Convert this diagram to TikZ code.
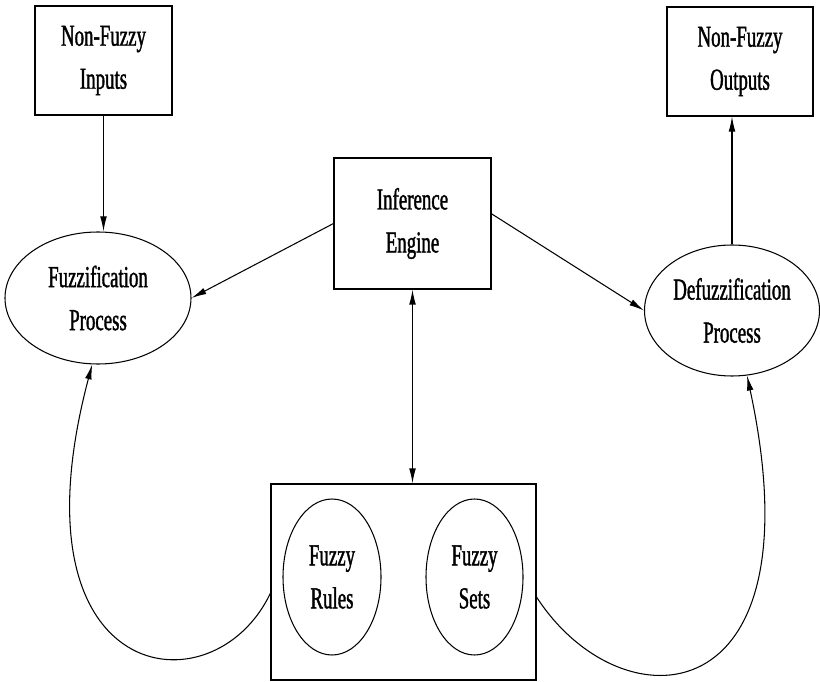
\documentclass[tikz,border=0pt]{standalone}
\usepackage{fontspec}
\setmainfont{Liberation Serif}[FakeStretch=0.62, FakeBold=1.2]
\usetikzlibrary{shapes.geometric, arrows.meta}

\begin{document}
\begin{tikzpicture}[
          box/.style={rectangle, draw, line width=0.9pt, inner sep=0pt,
                      font=\fontsize{26}{36.7}\selectfont, align=center},
          proc/.style={ellipse, draw, line width=0.9pt, inner sep=0pt,
                       font=\fontsize{26}{36.7}\selectfont, align=center},
          arr/.style={-{Latex[length=4.5mm,width=2mm]}, line width=0.9pt},
          dblarr/.style={{Latex[length=4.5mm,width=2mm]}-{Latex[length=4.5mm,width=2mm]},
                         line width=0.9pt}
        ]
        \useasboundingbox (0,0) rectangle (24.6,20.43);
        %% Crisp boxes
        \node[box, minimum width=4.11cm, minimum height=3.27cm] (inputs)
              at (3.105, 18.615) {Non-Fuzzy\\Inputs};
        \node[box, minimum width=4.38cm, minimum height=3.27cm] (outputs)
              at (22.2, 18.585) {Non-Fuzzy\\Outputs};
        %% Inference engine
        \node[box, minimum width=4.71cm, minimum height=3.93cm] (engine)
              at (12.375, 13.725) {Inference\\Engine};
        %% Processes
        \node[proc, minimum width=5.58cm, minimum height=3.96cm] (fuzz)
              at (2.94, 11.49) {Fuzzification\\Process};
        \node[proc, minimum width=5.25cm, minimum height=3.93cm] (defuzz)
              at (21.96, 11.115) {Defuzzification\\Process};
        %% Knowledge base
        \node[box, minimum width=7.95cm, minimum height=5.88cm] (kb)
              at (12.105, 2.97) {};
        \node[proc, minimum width=2.94cm, minimum height=4.68cm] (rules)
              at (9.96, 3.12) {Fuzzy\\Rules};
        \node[proc, minimum width=2.91cm, minimum height=4.68cm] (sets)
              at (14.235, 3.12) {Fuzzy\\Sets};
        %% Flow
        \draw[arr] (inputs.south) -- (inputs.south |- fuzz.north);
        \draw[arr] (engine.west) -- (fuzz.east);
        \draw[arr] (engine.7) -- (defuzz.west);
        \draw[arr] (defuzz.north) -- (defuzz.north |- outputs.south);
        \draw[dblarr] (engine.south) -- (engine.south |- kb.north);
        %% Feedback loops
        \draw[arr] ([yshift=-3.3mm]kb.west) .. controls (6.41,-0.98) and (0.2,-0.18)
              .. (fuzz.265);
        \draw[arr] ([yshift=-4.5mm]kb.east) .. controls (18.63,-1.4) and (24.62,-1.12)
              .. (defuzz.283);
      \end{tikzpicture}
\end{document}
